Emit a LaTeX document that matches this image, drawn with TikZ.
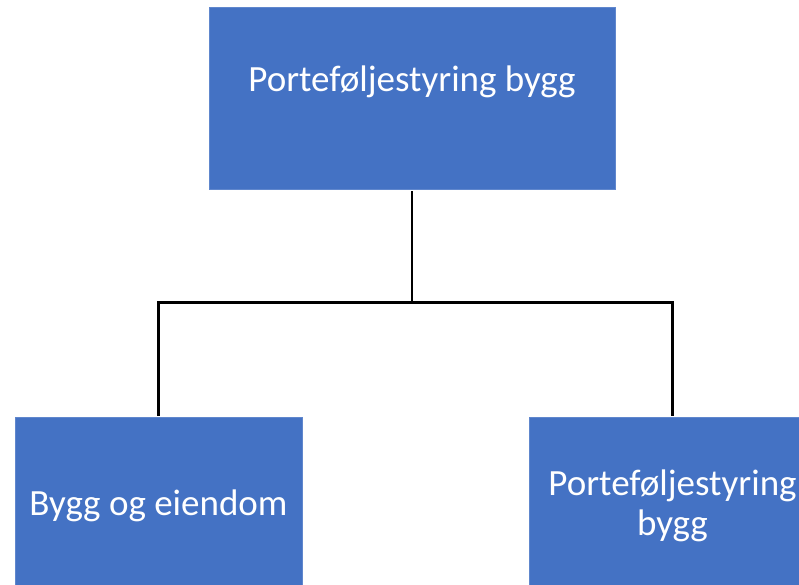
\documentclass[tikz,border=0pt]{standalone}
\usepackage{fontspec}
\setmainfont{Carlito}
\usetikzlibrary{positioning}
\definecolor{boxblue}{HTML}{4472C4}

\begin{document}
\begin{tikzpicture}[line cap=rect,line join=miter,x=1pt,y=-1pt,
  box/.style={fill=boxblue,draw=boxblue!85!white,line width=0.6pt,text=white,align=center,
    font=\fontsize{37}{40}\selectfont,inner sep=0pt,outer sep=2.5pt},
  link/.style={draw=black,line width=2.2pt}]
\useasboundingbox (0,0) rectangle (799,585);
\clip (0,0) rectangle (799,585);
%\draw [help lines, step=50] (0,0) grid (799,585);
\node[box,minimum width=406,minimum height=182,text depth=40pt] (top) at (412,98.5) {Porteføljestyring bygg};
\node[box,minimum width=287,minimum height=182,text depth=10pt] (bygg) at (158.5,508) {Bygg og eiendom};
\node[box,minimum width=287,minimum height=182,text depth=10pt] (port) at (672.5,508) {Porteføljestyring\\bygg};
\coordinate (fork) at (412,302.5);
\draw[link] (top.south) -- (fork);
\draw[link] (fork) -| (bygg.north);
\draw[link] (fork) -| (port.north);
\end{tikzpicture}
\end{document}
